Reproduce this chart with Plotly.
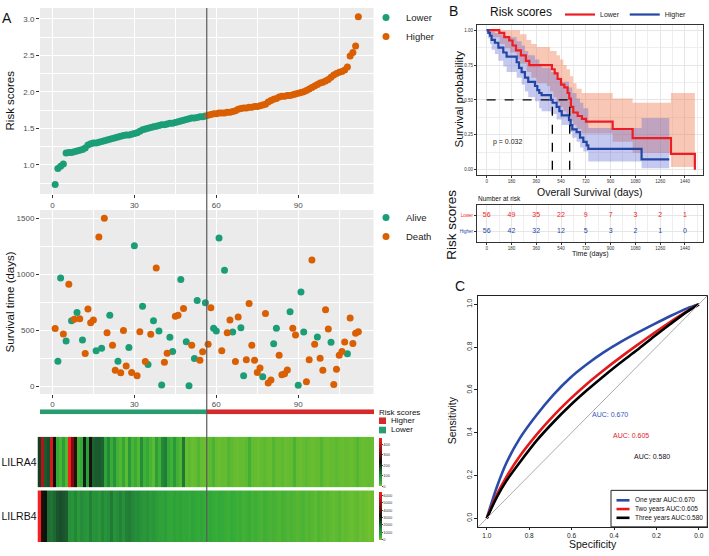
import plotly.graph_objects as go

# ---------------- data ----------------
sample_index = list(range(1, 113))
n_lower = 56

risk_scores = [
    0.73, 0.95, 0.98, 1.01, 1.16, 1.17, 1.17, 1.18, 1.19, 1.20,
    1.21, 1.23, 1.27, 1.29, 1.30, 1.30, 1.31, 1.32, 1.33, 1.34,
    1.35, 1.36, 1.37, 1.38, 1.39, 1.40, 1.41, 1.41, 1.42, 1.43,
    1.44, 1.46, 1.48, 1.49, 1.50, 1.51, 1.52, 1.53, 1.54, 1.55,
    1.55, 1.56, 1.57, 1.57, 1.58, 1.59, 1.60, 1.61, 1.62, 1.63,
    1.64, 1.64, 1.65, 1.66, 1.66, 1.67, 1.68, 1.69, 1.70, 1.70,
    1.71, 1.71, 1.71, 1.72, 1.72, 1.73, 1.74, 1.76, 1.77, 1.78,
    1.78, 1.79, 1.79, 1.80, 1.80, 1.81, 1.82, 1.83, 1.86, 1.88,
    1.90, 1.91, 1.93, 1.94, 1.94, 1.95, 1.95, 1.96, 1.97, 1.98,
    1.99, 2.00, 2.02, 2.04, 2.06, 2.08, 2.10, 2.12, 2.13, 2.15,
    2.17, 2.20, 2.23, 2.25, 2.27, 2.28, 2.30, 2.34, 2.49, 2.54,
    2.63, 3.03]

survival_days = [
    517, 227, 968, 469, 407, 912, 588, 600, 661, 605,
    416, 295, 691, 570, 593, 319, 1332, 342, 1500, 481,
    635, 369, 145, 227, 124, 499, 183, 348, 127, 1255,
    97, 490, 717, 224, 198, 466, 588, 1057, 496, 15,
    218, 298, 440, 313, 626, 635, 954, 697, 399, 9,
    369, 251, 768, 236, 310, 747, 378, 702, 520, 496,
    1323, 319, 1036, 481, 593, 487, 224, 620, 525, 97,
    239, 741, 369, 236, 127, 165, 89, 652, 32, 60,
    381, 520, 280, 106, 115, 148, 667, 520, 460, 12,
    844, 487, 44, 239, 1128, 378, 443, 254, 145, 685,
    514, 396, 18, 156, 280, 313, 398, 292, 611, 384,
    475, 490]

# 1 = Death, 0 = Alive
survival_status = [
    1, 0, 0, 1, 0, 1, 0, 1, 0, 1,
    0, 1, 1, 1, 1, 0, 1, 0, 1, 1,
    0, 1, 1, 0, 1, 1, 1, 0, 1, 0,
    1, 1, 0, 1, 0, 1, 0, 1, 0, 0,
    1, 1, 0, 0, 1, 1, 0, 1, 0, 0,
    1, 0, 0, 1, 1, 0, 1, 1, 0, 0,
    0, 1, 0, 1, 1, 0, 1, 1, 0, 0,
    1, 1, 1, 1, 1, 1, 0, 1, 1, 1,
    0, 0, 1, 1, 1, 1, 0, 1, 1, 0,
    0, 0, 1, 1, 1, 1, 0, 1, 1, 1,
    1, 0, 1, 1, 1, 1, 1, 0, 1, 1,
    1, 1]

lilra4_expr = [
    180, 380, 150, 160, 420, 230, 40, 25, 60, 20,
    460, 320, 250, 30, 40, 210, 60, 240, 140, 150,
    150, 140, 50, 95, 35, 80, 30, 20, 45, 15,
    70, 25, 35, 20, 90, 30, 40, 25, 15, 60,
    30, 95, 110, 40, 30, 70, 30, 20, 115, 10,
    15, 8, 12, 20, 10, 8, 12, 15, 25, 10,
    8, 12, 10, 20, 15, 10, 8, 12, 10, 15,
    30, 12, 10, 8, 12, 15, 10, 8, 20, 12,
    10, 15, 8, 10, 12, 25, 10, 8, 12, 15,
    10, 8, 10, 12, 20, 10, 8, 12, 10, 15,
    10, 8, 12, 10, 8, 12, 20, 10, 8, 10,
    12, 8]

lilrb4_expr = [
    6500, 3400, 3200, 1800, 1700, 1900, 2200, 2300, 2200, 2100,
    1200, 1100, 1400, 1000, 1300, 1150, 1050, 1500, 1100, 1200,
    1000, 1350, 1100, 1250, 1600, 1150, 1300, 1450, 1200, 1500,
    1550, 1400, 1250, 1300, 1100, 1000, 1150, 950, 1050, 900,
    800, 750, 850, 700, 650, 800, 700, 750, 650, 700,
    600, 750, 650, 600, 700, 550, 600, 650, 550, 500,
    600, 550, 500, 450, 550, 500, 450, 500, 400, 450,
    500, 400, 450, 400, 350, 450, 400, 350, 400, 350,
    300, 400, 350, 300, 350, 300, 250, 300, 350, 250,
    300, 250, 200, 300, 250, 200, 250, 200, 150, 200,
    250, 150, 200, 150, 100, 150, 200, 100, 150, 100,
    50, 100]

# Kaplan-Meier (panel B)
km_lower_t = [0, 92, 128, 164, 188, 213, 249, 285, 310, 474, 494, 515, 540,
              564, 588, 600, 612, 629, 661, 692, 721, 915, 1060, 1338, 1512]
km_lower_s = [1.0, 0.98, 0.95, 0.926, 0.89, 0.855, 0.82, 0.78, 0.75, 0.72, 0.69, 0.65, 0.61,
              0.59, 0.55, 0.51, 0.45, 0.41, 0.385, 0.365, 0.345, 0.292, 0.226, 0.114, 0.0]
km_higher_t = [0, 12, 24, 36, 60, 85, 121, 145, 218, 235, 254, 278, 302, 351, 368, 382,
               399, 467, 479, 508, 528, 545, 598, 610, 622, 653, 678, 702, 726, 738, 1125, 1326]
km_higher_s = [1.0, 0.98, 0.96, 0.93, 0.91, 0.875, 0.84, 0.81, 0.77, 0.73, 0.70, 0.66, 0.63, 0.60,
               0.57, 0.55, 0.535, 0.50, 0.48, 0.45, 0.42, 0.39, 0.355, 0.32, 0.29, 0.27, 0.23,
               0.20, 0.175, 0.15, 0.075, 0.075]
km_lower_band_t = [0, 12, 36, 97, 133, 170, 218, 242, 290, 324, 363, 436, 460, 484, 508,
                   532, 557, 581, 605, 629, 653, 690, 915, 1060, 1338, 1512]
km_lower_band_hi = [1.0, 1.0, 1.0, 1.0, 1.0, 1.0, 1.0, 0.97, 0.93, 0.90, 0.88, 0.88, 0.85,
                    0.85, 0.82, 0.79, 0.75, 0.72, 0.67, 0.62, 0.58, 0.55, 0.51, 0.48, 0.55, 0.55]
km_lower_band_lo = [1.0, 0.97, 0.95, 0.90, 0.87, 0.84, 0.79, 0.76, 0.70, 0.66, 0.62, 0.60, 0.56,
                    0.52, 0.48, 0.45, 0.42, 0.39, 0.35, 0.32, 0.29, 0.26, 0.20, 0.12, 0.02, 0.02]
km_higher_band_t = [0, 12, 24, 36, 60, 85, 121, 145, 218, 254, 278, 302, 351, 382, 399, 467,
                    508, 545, 598, 622, 653, 678, 702, 738, 1125, 1326]
km_higher_band_hi = [1.0, 1.0, 0.99, 0.99, 0.98, 0.97, 0.96, 0.95, 0.92, 0.89, 0.85, 0.82, 0.79,
                     0.76, 0.73, 0.70, 0.66, 0.63, 0.59, 0.55, 0.51, 0.48, 0.44, 0.30, 0.37, 0.37]
km_higher_band_lo = [1.0, 0.94, 0.90, 0.86, 0.83, 0.78, 0.74, 0.70, 0.66, 0.61, 0.56, 0.52, 0.49,
                     0.44, 0.42, 0.40, 0.36, 0.32, 0.27, 0.23, 0.20, 0.16, 0.13, 0.06, 0.01, 0.01]
median_lower = 603
median_higher = 477
median_level = 0.5
p_value_label = "p = 0.032"

at_risk_times = [0, 180, 360, 540, 720, 900, 1080, 1260, 1440]
at_risk_lower = [56, 49, 35, 22, 9, 7, 3, 2, 1]
at_risk_higher = [56, 42, 32, 12, 5, 3, 2, 1, 0]

# ROC (panel C)
roc_specificity = [1.0, 0.953, 0.906, 0.843, 0.764, 0.685, 0.606, 0.528, 0.449, 0.370,
                   0.291, 0.213, 0.134, 0.055, 0.0]
roc_sens_1y = [0.0, 0.145, 0.262, 0.376, 0.484, 0.578, 0.657, 0.720, 0.775, 0.823,
               0.866, 0.906, 0.945, 0.981, 1.0]
roc_sens_2y = [0.0, 0.110, 0.196, 0.292, 0.392, 0.480, 0.558, 0.628, 0.692, 0.752,
               0.809, 0.864, 0.918, 0.968, 1.0]
roc_sens_3y = [0.0, 0.098, 0.177, 0.263, 0.364, 0.450, 0.528, 0.598, 0.664, 0.727,
               0.786, 0.848, 0.908, 0.966, 1.0]
roc_names = ["One year", "Two years", "Three years"]
roc_auc = [0.670, 0.605, 0.580]

# ---------------- styling helpers ----------------
W, H = 709, 556
FONT = "Arial, Liberation Sans, sans-serif"
GREEN = "#1B9E77"
ORANGE = "#D95F02"
BAR_GREEN = "#2A9D70"
BAR_RED = "#D42A2A"
KM_RED = "#EE1C25"
KM_BLUE = "#2346A5"
ROC_COLORS = ["#2B4BA8", "#E31A1C", "#000000"]
TICK_GRAY = "#4D4D4D"


def px(x):
    return x / W


def py(y):
    return 1 - y / H


def dom_x(a, b):
    return [a / W, b / W]


def dom_y(top, bottom):
    return [1 - bottom / H, 1 - top / H]


fig = go.Figure()

# ---- Panel A top: risk scores ----
fig.add_trace(go.Scatter(x=sample_index[:n_lower], y=risk_scores[:n_lower], mode="markers",
                         marker=dict(color=GREEN, size=7), name="Lower", legend="legend",
                         xaxis="x", yaxis="y", hoverinfo="skip"))
fig.add_trace(go.Scatter(x=sample_index[n_lower:], y=risk_scores[n_lower:], mode="markers",
                         marker=dict(color=ORANGE, size=7), name="Higher", legend="legend",
                         xaxis="x", yaxis="y", hoverinfo="skip"))

# ---- Panel A middle: survival time ----
alive_x = [i for i, s in zip(sample_index, survival_status) if s == 0]
alive_y = [d for d, s in zip(survival_days, survival_status) if s == 0]
death_x = [i for i, s in zip(sample_index, survival_status) if s == 1]
death_y = [d for d, s in zip(survival_days, survival_status) if s == 1]
fig.add_trace(go.Scatter(x=alive_x, y=alive_y, mode="markers", marker=dict(color=GREEN, size=7),
                         name="Alive", legend="legend2", xaxis="x2", yaxis="y2", hoverinfo="skip"))
fig.add_trace(go.Scatter(x=death_x, y=death_y, mode="markers", marker=dict(color=ORANGE, size=7),
                         name="Death", legend="legend2", xaxis="x2", yaxis="y2", hoverinfo="skip"))

# ---- Panel A: risk group bar ----
risk_group = ["Lower" if i <= n_lower else "Higher" for i in sample_index]
fig.add_trace(go.Heatmap(x=sample_index, y=["group"],
                         z=[[0 if g == "Lower" else 1 for g in risk_group]],
                         colorscale=[[0, BAR_GREEN], [0.5, BAR_GREEN], [0.5, BAR_RED], [1, BAR_RED]],
                         zmin=0, zmax=1, showscale=False, xaxis="x3", yaxis="y3", hoverinfo="skip"))

# ---- Panel A: expression heatmaps ----
HEAT_SCALE = [[0.0, "rgb(120,194,46)"], [0.08, "rgb(52,172,56)"], [0.2, "rgb(36,140,58)"],
              [0.33, "rgb(26,88,46)"], [0.43, "rgb(16,44,24)"], [0.5, "rgb(12,16,12)"],
              [0.7, "rgb(125,14,16)"], [1.0, "rgb(250,30,34)"]]
fig.add_trace(go.Heatmap(x=sample_index, y=["LILRA4"], z=[lilra4_expr], colorscale=HEAT_SCALE,
                         zmin=0, zmax=460, xaxis="x4", yaxis="y4", hoverinfo="skip",
                         colorbar=dict(x=px(379), xanchor="left", xpad=0, y=py(461.7), yanchor="middle",
                                       ypad=0, len=48, lenmode="pixels", thickness=3, outlinewidth=0,
                                       tickvals=[0, 100, 200, 300, 400], tickfont=dict(size=4, color="#333"),
                                       ticks="outside", ticklen=1)))
fig.add_trace(go.Heatmap(x=sample_index, y=["LILRB4"], z=[lilrb4_expr], colorscale=HEAT_SCALE,
                         zmin=0, zmax=6500, xaxis="x5", yaxis="y5", hoverinfo="skip",
                         colorbar=dict(x=px(379), xanchor="left", xpad=0, y=py(515.5), yanchor="middle",
                                       ypad=0, len=48, lenmode="pixels", thickness=3, outlinewidth=0,
                                       tickvals=[0, 1000, 2000, 3000, 4000, 5000, 6000],
                                       tickfont=dict(size=4, color="#333"), ticks="outside", ticklen=1)))

# ---- Panel B: KM ----
fig.add_trace(go.Scatter(x=km_lower_band_t, y=km_lower_band_lo, mode="lines",
                         line=dict(width=0, shape="hv"), showlegend=False, xaxis="x6", yaxis="y6",
                         hoverinfo="skip"))
fig.add_trace(go.Scatter(x=km_lower_band_t, y=km_lower_band_hi, mode="lines",
                         line=dict(width=0, shape="hv"), fill="tonexty",
                         fillcolor="rgba(240,130,90,0.45)", showlegend=False, xaxis="x6", yaxis="y6",
                         hoverinfo="skip"))
fig.add_trace(go.Scatter(x=km_higher_band_t, y=km_higher_band_lo, mode="lines",
                         line=dict(width=0, shape="hv"), showlegend=False, xaxis="x6", yaxis="y6",
                         hoverinfo="skip"))
fig.add_trace(go.Scatter(x=km_higher_band_t, y=km_higher_band_hi, mode="lines",
                         line=dict(width=0, shape="hv"), fill="tonexty",
                         fillcolor="rgba(90,100,210,0.35)", showlegend=False, xaxis="x6", yaxis="y6",
                         hoverinfo="skip"))
fig.add_trace(go.Scatter(x=km_lower_t, y=km_lower_s, mode="lines", line=dict(color=KM_RED, width=2.2, shape="hv"),
                         name="Lower", legend="legend4", xaxis="x6", yaxis="y6", hoverinfo="skip"))
fig.add_trace(go.Scatter(x=km_higher_t, y=km_higher_s, mode="lines", line=dict(color=KM_BLUE, width=2.2, shape="hv"),
                         name="Higher", legend="legend4", xaxis="x6", yaxis="y6", hoverinfo="skip"))
# median lines
fig.add_trace(go.Scatter(x=[0, max(median_lower, median_higher)], y=[median_level, median_level], mode="lines",
                         line=dict(color="black", width=1.3, dash="dash"), showlegend=False,
                         xaxis="x6", yaxis="y6", hoverinfo="skip"))
for m in (median_higher, median_lower):
    fig.add_trace(go.Scatter(x=[m, m], y=[0, median_level], mode="lines",
                             line=dict(color="black", width=1.3, dash="dash"), showlegend=False,
                             xaxis="x6", yaxis="y6", hoverinfo="skip"))

# ---- Panel B: risk table ----
fig.add_trace(go.Scatter(x=at_risk_times, y=["Lower"] * len(at_risk_times), text=[str(v) for v in at_risk_lower],
                         mode="text", textfont=dict(color=KM_RED, size=7, family=FONT), showlegend=False,
                         xaxis="x7", yaxis="y7", hoverinfo="skip"))
fig.add_trace(go.Scatter(x=at_risk_times, y=["Higher"] * len(at_risk_times), text=[str(v) for v in at_risk_higher],
                         mode="text", textfont=dict(color=KM_BLUE, size=7, family=FONT), showlegend=False,
                         xaxis="x7", yaxis="y7", hoverinfo="skip"))

# ---- Panel C: ROC ----
for sens, col in zip([roc_sens_1y, roc_sens_2y, roc_sens_3y], ROC_COLORS):
    fig.add_trace(go.Scatter(x=roc_specificity, y=sens, mode="lines",
                             line=dict(color=col, width=2.6, shape="spline", smoothing=0.8),
                             showlegend=False, xaxis="x8", yaxis="y8", hoverinfo="skip"))

# ---------------- axes ----------------
tick_common = dict(ticks="outside", ticklen=3, tickcolor="#333", tickfont=dict(size=8, color=TICK_GRAY, family=FONT),
                   zeroline=False, showline=False)
ax_a_x = dict(range=[-4.55, 117.55], tickvals=[0, 30, 60, 90], showgrid=True, gridcolor="white", gridwidth=1.1,
              minor=dict(tickvals=[15, 45, 75, 105], showgrid=True, gridcolor="white", gridwidth=0.5, ticks=""),
              **tick_common)
km_x = dict(range=[-70, 1571], tickvals=at_risk_times, ticks="outside", ticklen=2, tickcolor="#333",
            tickfont=dict(size=4.5, color="#333", family=FONT), showgrid=True, gridcolor="#E6E6E6",
            gridwidth=1, minor=dict(tickvals=[90, 270, 450, 630, 810, 990, 1170, 1350, 1530],
                                    showgrid=True, gridcolor="#EEEEEE", gridwidth=0.6, ticks=""),
            zeroline=False, showline=True, mirror=True, linecolor="#333", linewidth=1)

layout_axes = dict(
    xaxis=dict(domain=dom_x(40, 373.5), anchor="y", **ax_a_x),
    yaxis=dict(domain=dom_y(5, 192), anchor="x", range=[0.6, 3.15], tickvals=[1.0, 1.5, 2.0, 2.5, 3.0],
               ticktext=["1.0", "1.5", "2.0", "2.5", "3.0"], showgrid=True, gridcolor="white", gridwidth=1.1,
               minor=dict(tickvals=[0.75, 1.25, 1.75, 2.25, 2.75], showgrid=True, gridcolor="white",
                          gridwidth=0.5, ticks=""), **tick_common),
    xaxis2=dict(domain=dom_x(40, 373.5), anchor="y2", **ax_a_x),
    yaxis2=dict(domain=dom_y(208, 393), anchor="x2", range=[-64.5, 1574.5], tickvals=[0, 500, 1000, 1500],
                showgrid=True, gridcolor="white", gridwidth=1.1,
                minor=dict(tickvals=[250, 750, 1250], showgrid=True, gridcolor="white", gridwidth=0.5, ticks=""),
                **tick_common),
    xaxis3=dict(domain=dom_x(40, 374), anchor="y3", range=[0.5, 112.5], visible=False),
    yaxis3=dict(domain=dom_y(408.5, 413.5), anchor="x3", visible=False),
    xaxis4=dict(domain=dom_x(37.5, 374), anchor="y4", range=[0.5, 112.5], visible=False),
    yaxis4=dict(domain=dom_y(436, 487), anchor="x4", showgrid=False, zeroline=False, ticks="",
                tickfont=dict(size=10.5, color="#111", family=FONT)),
    xaxis5=dict(domain=dom_x(37.5, 374), anchor="y5", range=[0.5, 112.5], visible=False),
    yaxis5=dict(domain=dom_y(490, 542), anchor="x5", showgrid=False, zeroline=False, ticks="",
                tickfont=dict(size=10.5, color="#111", family=FONT)),
    xaxis6=dict(domain=dom_x(477, 703), anchor="y6", **km_x),
    yaxis6=dict(domain=dom_y(21.7, 173), anchor="x6", range=[-0.038, 1.04],
                tickvals=[0, 0.25, 0.5, 0.75, 1.0], ticktext=["0.00", "0.25", "0.50", "0.75", "1.00"],
                ticks="outside", ticklen=2, tickcolor="#333", tickfont=dict(size=4.5, color="#333", family=FONT),
                showgrid=True, gridcolor="#E6E6E6", gridwidth=1,
                minor=dict(tickvals=[0.125, 0.375, 0.625, 0.875], showgrid=True, gridcolor="#EEEEEE",
                           gridwidth=0.6, ticks=""),
                zeroline=False, showline=True, mirror=True, linecolor="#333", linewidth=1),
    xaxis7=dict(domain=dom_x(477, 703), anchor="y7", **km_x),
    yaxis7=dict(domain=dom_y(203, 240), anchor="x7", type="category", categoryorder="array",
                categoryarray=["Higher", "Lower"], range=[-0.6, 1.62],
                tickvals=["Lower", "Higher"],
                ticktext=['<span style="color:%s">Lower</span>' % KM_RED,
                          '<span style="color:%s">Higher</span>' % KM_BLUE],
                ticks="outside", ticklen=2, tickcolor="#333", tickfont=dict(size=4.5, family=FONT),
                showgrid=True, gridcolor="#E6E6E6", zeroline=False, showline=True, mirror=True,
                linecolor="#333", linewidth=1),
    xaxis8=dict(domain=dom_x(478.3, 707.3), anchor="y8", range=[1.04, -0.04],
                tickvals=[1.0, 0.8, 0.6, 0.4, 0.2, 0.0], ticktext=["1.0", "0.8", "0.6", "0.4", "0.2", "0.0"],
                ticks="outside", ticklen=2, tickcolor="#222", tickfont=dict(size=6.5, color="#222", family=FONT),
                showgrid=False, zeroline=False, showline=True, mirror=True, linecolor="#222", linewidth=1),
    yaxis8=dict(domain=dom_y(294.3, 526.7), anchor="x8", range=[-0.04, 1.04],
                tickvals=[0.0, 0.2, 0.4, 0.6, 0.8, 1.0], ticktext=["0.0", "0.2", "0.4", "0.6", "0.8", "1.0"],
                tickangle=-90, ticks="outside", ticklen=3, tickcolor="#222",
                tickfont=dict(size=6.5, color="#222", family=FONT),
                showgrid=False, zeroline=False, showline=True, mirror=True, linecolor="#222", linewidth=1),
)

# ---------------- shapes ----------------
shapes = [
    dict(type="rect", xref="x domain", yref="y domain", x0=0, x1=1, y0=0, y1=1,
         fillcolor="#EBEBEB", line=dict(width=0), layer="below"),
    dict(type="rect", xref="x2 domain", yref="y2 domain", x0=0, x1=1, y0=0, y1=1,
         fillcolor="#EBEBEB", line=dict(width=0), layer="below"),
    # cut-off line between low/high risk groups
    dict(type="line", xref="x", yref="paper", x0=n_lower + 0.5, x1=n_lower + 0.5, y0=py(542), y1=py(5),
         line=dict(color="#5A5A5A", width=1.2)),
    # risk-group legend keys
    dict(type="rect", xref="paper", yref="paper", x0=px(379), x1=px(386), y0=py(423.3), y1=py(416.7),
         fillcolor=BAR_RED, line=dict(width=0)),
    dict(type="rect", xref="paper", yref="paper", x0=px(379), x1=px(386), y0=py(432.7), y1=py(426),
         fillcolor=BAR_GREEN, line=dict(width=0)),
    # ROC chance diagonal
    dict(type="line", xref="x8 domain", yref="y8 domain", x0=0, x1=1, y0=0, y1=1,
         line=dict(color="#AAAAAA", width=1)),
    # ROC legend box
    dict(type="rect", xref="paper", yref="paper", x0=px(611), x1=px(707.3), y0=py(526.7), y1=py(490),
         fillcolor="white", line=dict(color="#222", width=1)),
]
for k, col in enumerate(ROC_COLORS):
    yy = 500 + k * 8.8
    shapes.append(dict(type="line", xref="paper", yref="paper", x0=px(616.5), x1=px(629.5), y0=py(yy), y1=py(yy),
                       line=dict(color=col, width=2.6)))


# ---------------- annotations ----------------
def ann(text, x, y, size, color="#111", angle=0, xanchor="center", yanchor="middle", xref="paper", yref="paper"):
    return dict(text=text, x=x, y=y, xref=xref, yref=yref, showarrow=False, textangle=angle,
                xanchor=xanchor, yanchor=yanchor, font=dict(size=size, color=color, family=FONT))


annotations = [
    ann("A", px(7), py(15), 14),
    ann("B", px(453), py(8), 14),
    ann("C", px(460), py(285), 14),
    ann("Risk scores", px(10), py(98), 11.5, angle=-90),
    ann("Survival time (days)", px(10), py(301), 11.5, angle=-90),
    ann("Risk scores", px(377), py(411.5), 8, xanchor="left"),
    ann("Higher", px(389), py(420), 8, xanchor="left"),
    ann("Lower", px(389), py(429.3), 8, xanchor="left"),
    ann("Survival probability", px(459), py(97), 11.5, angle=-90),
    ann("Overall Survival (days)", px(590), py(190.5), 10.5),
    ann("Number at risk", px(476), py(196.5), 6.5, xanchor="left"),
    ann("Risk scores", px(452), py(223), 13.5, angle=-90),
    ann("Time (days)", px(590), py(252.5), 7),
    ann(p_value_label, 30, 0.2, 7, color="#222", xanchor="left", xref="x6", yref="y6"),
    ann("Sensitivity", px(451.5), py(420), 10.5, angle=-90),
    ann("Specificity", px(593), py(544), 10.5),
    ann("AUC: %.3f" % roc_auc[0], 0.42, 0.486, 7, color="#3355BB", xref="x8", yref="y8"),
    ann("AUC: %.3f" % roc_auc[1], 0.321, 0.3875, 7, color="#E31A1C", xref="x8", yref="y8"),
    ann("AUC: %.3f" % roc_auc[2], 0.22, 0.289, 7, color="#111", xref="x8", yref="y8"),
]
for k, (nm, auc) in enumerate(zip(roc_names, roc_auc)):
    annotations.append(ann("%s AUC:%.3f" % (nm, auc), px(633), py(500 + k * 8.8), 6.5, color="#111",
                           xanchor="left"))

fig.update_layout(
    width=W, height=H, autosize=False,
    margin=dict(l=0, r=0, t=0, b=0, pad=0),
    paper_bgcolor="white", plot_bgcolor="white",
    font=dict(family=FONT, color="#111"),
    showlegend=True,
    legend=dict(x=px(366), y=py(0), xanchor="left", yanchor="top", bgcolor="rgba(0,0,0,0)",
                font=dict(size=9.5, color="#222"), tracegroupgap=0, itemwidth=30, traceorder="normal"),
    legend2=dict(x=px(366), y=py(201), xanchor="left", yanchor="top", bgcolor="rgba(0,0,0,0)",
                 font=dict(size=9.5, color="#222"), tracegroupgap=0, itemwidth=30, traceorder="normal"),
    legend4=dict(x=px(488), y=py(-3), xanchor="left", yanchor="top", orientation="h",
                 bgcolor="rgba(0,0,0,0)", font=dict(size=7, color="#222"), itemwidth=30, traceorder="normal",
                 title=dict(text="Risk scores", side="left", font=dict(size=12, color="#111"))),
    shapes=shapes,
    annotations=annotations,
    **layout_axes,
)

# remove the browser's default page margin so the figure starts at the top-left corner
fig.write_html("out.html", config={"displayModeBar": False},
               post_script="document.body.style.margin='0px';")
